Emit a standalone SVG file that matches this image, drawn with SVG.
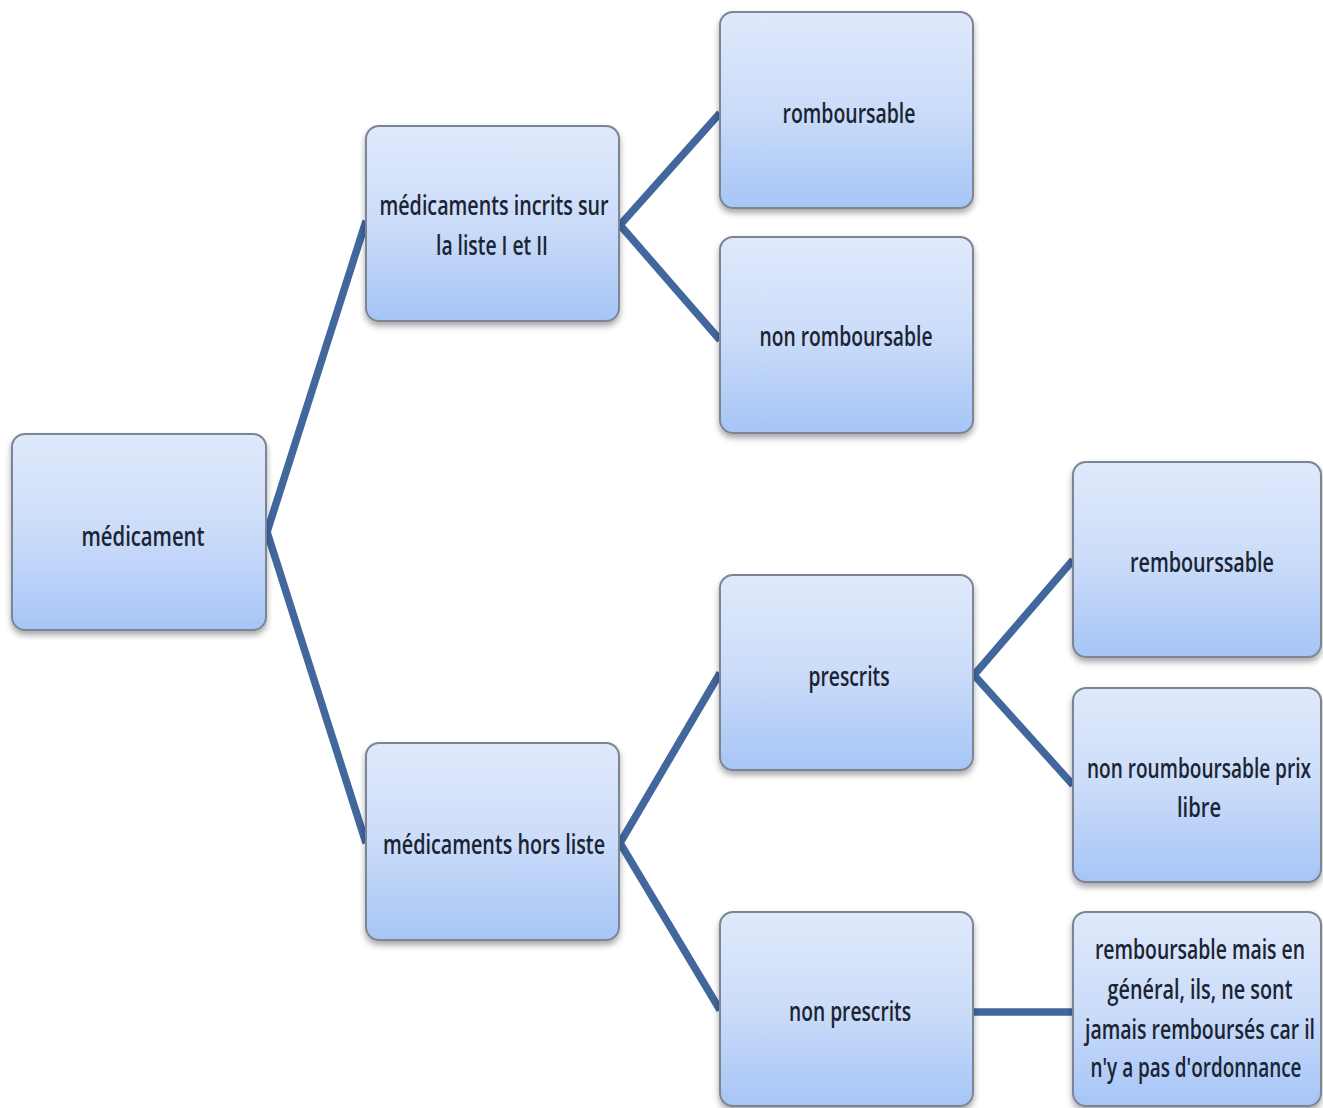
<svg xmlns="http://www.w3.org/2000/svg" width="1323" height="1108" viewBox="0 0 1323 1108">
  <defs>
    <linearGradient id="boxFill" x1="0" y1="0" x2="0" y2="1">
      <stop offset="0" stop-color="#e0e9fb"/>
      <stop offset="0.5" stop-color="#cbdcf9"/>
      <stop offset="1" stop-color="#a6c5f6"/>
    </linearGradient>
    <filter id="shadow" x="-10%" y="-10%" width="120%" height="125%">
      <feGaussianBlur in="SourceAlpha" stdDeviation="3"/>
      <feOffset dx="0" dy="4" result="b"/>
      <feComponentTransfer><feFuncA type="linear" slope="0.35"/></feComponentTransfer>
      <feMerge><feMergeNode/><feMergeNode in="SourceGraphic"/></feMerge>
    </filter>
  </defs>
  <style>
    .box { fill: url(#boxFill); stroke: #7c8594; stroke-width: 2; filter: url(#shadow); }
    .lbl { font-family: "Open Sans", "Noto Sans", "Liberation Sans", sans-serif; font-size: 27px; font-weight: 600; fill: #1b2433; text-anchor: middle; }
    .link { stroke: #41679d; stroke-width: 7.5; fill: none; stroke-linejoin: miter; }
  </style>
  <rect width="1323" height="1108" fill="#ffffff"/>

  <!-- connectors between parent and child boxes -->
  <g id="connectors">
    <polyline class="link" points="366,221 267,532 366,843"/>
    <polyline class="link" points="720,113 620,225 720,340"/>
    <polyline class="link" points="720,673 620,843 720,1010"/>
    <polyline class="link" points="1073,560 974,675 1073,785"/>
    <line class="link" x1="973" y1="1012" x2="1073" y2="1012"/>
  </g>

  <g id="n-medicament">
    <rect class="box" x="12" y="434" width="254" height="196" rx="13"/>
    <text class="lbl" x="143" y="546" textLength="123" lengthAdjust="spacingAndGlyphs">médicament</text>
  </g>
  <g id="n-liste">
    <rect class="box" x="366" y="126" width="253" height="195" rx="13"/>
    <text class="lbl" x="494" y="215" textLength="229" lengthAdjust="spacingAndGlyphs">médicaments incrits sur</text>
    <text class="lbl" x="492" y="255" textLength="112" lengthAdjust="spacingAndGlyphs">la liste I et II</text>
  </g>
  <g id="n-hors-liste">
    <rect class="box" x="366" y="743" width="253" height="197" rx="13"/>
    <text class="lbl" x="494" y="854" textLength="222" lengthAdjust="spacingAndGlyphs">médicaments hors liste</text>
  </g>
  <g id="n-romboursable">
    <rect class="box" x="720" y="12" width="253" height="196" rx="13"/>
    <text class="lbl" x="849" y="123" textLength="133" lengthAdjust="spacingAndGlyphs">romboursable</text>
  </g>
  <g id="n-non-romboursable">
    <rect class="box" x="720" y="237" width="253" height="196" rx="13"/>
    <text class="lbl" x="846" y="346" textLength="173" lengthAdjust="spacingAndGlyphs">non romboursable</text>
  </g>
  <g id="n-prescrits">
    <rect class="box" x="720" y="575" width="253" height="195" rx="13"/>
    <text class="lbl" x="849" y="686" textLength="81" lengthAdjust="spacingAndGlyphs">prescrits</text>
  </g>
  <g id="n-non-prescrits">
    <rect class="box" x="720" y="912" width="253" height="194" rx="13"/>
    <text class="lbl" x="850" y="1021" textLength="122" lengthAdjust="spacingAndGlyphs">non prescrits</text>
  </g>
  <g id="n-rembourssable">
    <rect class="box" x="1073" y="462" width="248" height="195" rx="13"/>
    <text class="lbl" x="1202" y="572" textLength="144" lengthAdjust="spacingAndGlyphs">rembourssable</text>
  </g>
  <g id="n-prix-libre">
    <rect class="box" x="1073" y="688" width="248" height="194" rx="13"/>
    <text class="lbl" x="1199" y="778" textLength="224" lengthAdjust="spacingAndGlyphs">non roumboursable prix</text>
    <text class="lbl" x="1199" y="817" textLength="44" lengthAdjust="spacingAndGlyphs">libre</text>
  </g>
  <g id="n-sans-ordonnance">
    <rect class="box" x="1073" y="912" width="248" height="194" rx="13"/>
    <text class="lbl" x="1200" y="959" textLength="210" lengthAdjust="spacingAndGlyphs">remboursable mais en</text>
    <text class="lbl" x="1200" y="999" textLength="185" lengthAdjust="spacingAndGlyphs">général, ils, ne sont</text>
    <text class="lbl" x="1200" y="1039" textLength="230" lengthAdjust="spacingAndGlyphs">jamais remboursés car il</text>
    <text class="lbl" x="1196" y="1077" textLength="211" lengthAdjust="spacingAndGlyphs">n'y a pas d'ordonnance</text>
  </g>
</svg>
